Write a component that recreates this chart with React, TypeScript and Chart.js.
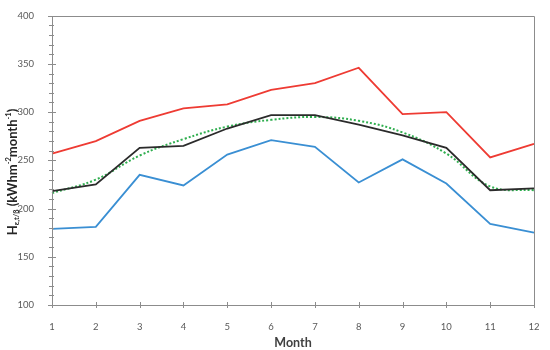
import React, { useEffect, useRef } from "react";
import { Chart, registerables } from "chart.js";

Chart.register(...registerables);

const months = ["1", "2", "3", "4", "5", "6", "7", "8", "9", "10", "11", "12"];
const redSeries = [257, 270, 291, 304, 308, 323, 330, 346, 298, 300, 253, 267];
const blackSeries = [218, 225, 263, 265, 283, 297, 297, 287, 276, 263, 219, 221];
const blueSeries = [179, 181, 235, 224, 256, 271, 264, 227, 251, 226, 184, 175];
const greenTrend = [216, 230, 255, 272, 285, 292, 295, 291, 279, 257, 223, 219];
const yMin = 100;
const yMax = 400;
const yMajorStep = 50;
const yMinorStep = 10;

const FONT = "Lato, 'Open Sans', sans-serif";

const frameAndTicks = {
  id: "frameAndTicks",
  afterDatasetsDraw(chart: any) {
    const { ctx, chartArea } = chart;
    const { left, right, top, bottom } = chartArea;
    const y = chart.scales.y;
    const x = chart.scales.x;
    ctx.save();
    ctx.strokeStyle = "#8c8c8c";
    ctx.lineWidth = 1;
    ctx.beginPath();
    ctx.rect(Math.round(left) + 0.5, Math.round(top) + 0.5, Math.round(right - left), Math.round(bottom - top));
    ctx.stroke();
    ctx.beginPath();
    for (let v = yMin; v <= yMax; v += yMinorStep) {
      const py = Math.round(y.getPixelForValue(v)) + 0.5;
      const major = v % yMajorStep === 0;
      ctx.moveTo(left - (major ? 4 : 3), py);
      ctx.lineTo(left + (major ? 4 : 2), py);
    }
    for (let i = 0; i < months.length; i++) {
      const px = Math.round(x.getPixelForValue(i)) + 0.5;
      ctx.moveTo(px, bottom - 3);
      ctx.lineTo(px, bottom + 3);
    }
    ctx.stroke();
    ctx.restore();
  },
};

const yTitle = {
  id: "yTitle",
  afterDraw(chart: any) {
    const { ctx } = chart;
    const cy = 172;
    const parts: { t: string; size: number; dy: number }[] = [
      { t: "H", size: 13, dy: 0 },
      { t: "ε,t/β", size: 7.5, dy: 2 },
      { t: " (kWhm", size: 13, dy: 0 },
      { t: "-2", size: 7.5, dy: -6 },
      { t: "month", size: 13, dy: 0 },
      { t: "-1", size: 7.5, dy: -6 },
      { t: ")", size: 13, dy: 0 },
    ];
    ctx.save();
    let total = 0;
    for (const p of parts) {
      ctx.font = `bold ${p.size}px ${FONT}`;
      total += ctx.measureText(p.t).width;
    }
    ctx.translate(16.5, cy);
    ctx.rotate(-Math.PI / 2);
    ctx.fillStyle = "#262626";
    ctx.textBaseline = "alphabetic";
    let xPos = -total / 2;
    for (const p of parts) {
      ctx.font = `bold ${p.size}px ${FONT}`;
      ctx.fillText(p.t, xPos, p.dy);
      xPos += ctx.measureText(p.t).width;
    }
    ctx.restore();
  },
};

export default function App() {
  const ref = useRef<HTMLCanvasElement | null>(null);
  useEffect(() => {
    document.body.style.margin = "0";
    if (!ref.current) return;
    const chart = new Chart(ref.current, {
      type: "line",
      data: {
        labels: months,
        datasets: [
          { label: "Max", data: redSeries, borderColor: "#ee3b33", borderWidth: 1.8, pointRadius: 0, tension: 0 },
          { label: "Min", data: blueSeries, borderColor: "#3a8fd3", borderWidth: 1.8, pointRadius: 0, tension: 0 },
          { label: "Mean", data: blackSeries, borderColor: "#2b2b2b", borderWidth: 1.8, pointRadius: 0, tension: 0 },
          {
            label: "Trend",
            data: greenTrend,
            borderColor: "#2fae4f",
            borderWidth: 2,
            borderDash: [2, 2],
            pointRadius: 0,
            tension: 0.4,
            cubicInterpolationMode: "default",
          },
        ],
      },
      options: {
        animation: false,
        responsive: true,
        maintainAspectRatio: false,
        layout: { padding: { top: 13, right: 16, left: 0, bottom: 0 } },
        plugins: { legend: { display: false }, tooltip: { enabled: false } },
        scales: {
          x: {
            offset: false,
            grid: { display: false },
            border: { display: false },
            ticks: { color: "#595959", font: { family: FONT, size: 9.5 }, padding: 8, maxRotation: 0, autoSkip: false },
            title: {
              display: true,
              text: "Month",
              color: "#404040",
              font: { family: FONT, size: 12.5, weight: "bold" },
              padding: { top: 2, bottom: 0 },
            },
            afterFit: (s: any) => {
              s.height = 45;
            },
          },
          y: {
            min: yMin,
            max: yMax,
            grid: { display: false },
            border: { display: false },
            ticks: { stepSize: yMajorStep, color: "#595959", font: { family: FONT, size: 9.5 }, padding: 10 },
            afterFit: (s: any) => {
              s.width = 52;
            },
          },
        },
      },
      plugins: [frameAndTicks, yTitle],
    });
    return () => chart.destroy();
  }, []);
  return (
    <div style={{ width: 550, height: 350, position: "relative" }}>
      <canvas ref={ref} />
    </div>
  );
}
